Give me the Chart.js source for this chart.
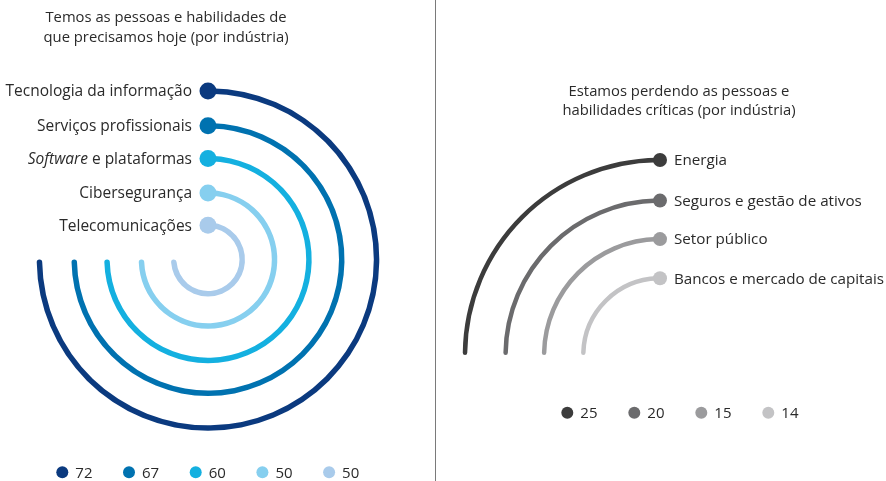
<!DOCTYPE html>
<html>
<head>
<meta charset="utf-8">
<script src="https://cdn.jsdelivr.net/npm/chart.js@4/dist/chart.umd.min.js"></script>
<style>
  html, body { margin: 0; padding: 0; background: #fff; }
  #wrap { position: relative; width: 886px; height: 481px; overflow: hidden; }
  #esq { position: absolute; left: 0; top: 0; }
  #dir { position: absolute; left: 437px; top: 0; }
  #divisor { position: absolute; left: 435px; top: 0; width: 1px; height: 481px; background: #7a7a7a; }
</style>
</head>
<body>
<div id="wrap">
  <canvas id="esq" width="416" height="481"></canvas>
  <div id="divisor"></div>
  <canvas id="dir" width="449" height="481"></canvas>
</div>
<script>
// industrias com pessoas e habilidades necessarias hoje
const industriasHoje = ['Tecnologia da informação', 'Serviços profissionais', 'Software e plataformas', 'Cibersegurança', 'Telecomunicações'];
const valoresHoje = [72, 67, 60, 50, 50];
const coresHoje = ['#0b3a7f', '#0072b0', '#14b0e0', '#86cfef', '#a9cbeb'];

// industrias perdendo pessoas e habilidades criticas
const industriasPerda = ['Energia', 'Seguros e gestão de ativos', 'Setor público', 'Bancos e mercado de capitais'];
const valoresPerda = [25, 20, 15, 14];
const coresPerda = ['#3c3c3c', '#6b6b6d', '#9b9b9d', '#c3c3c5'];

const tituloHoje = ['Temos as pessoas e habilidades de', 'que precisamos hoje (por indústria)'];
const tituloPerda = ['Estamos perdendo as pessoas e', 'habilidades críticas (por indústria)'];

const FONTE = '"Open Sans", "Noto Sans", sans-serif';
const COR_TEXTO = '#2a2a2a';

// monta os aneis (um dataset por industria) com aneis vazios entre eles
function montaAneis(valores, cores, espessura, vaos) {
  const ds = [];
  valores.forEach(function(v, i) {
    ds.push({
      data: [v],
      backgroundColor: cores[i],
      hoverBackgroundColor: cores[i],
      borderWidth: 0,
      borderRadius: espessura / 2,
      weight: espessura
    });
    if (i < vaos.length) {
      ds.push({
        data: [1],
        espaco: true,
        backgroundColor: 'rgba(0,0,0,0)',
        hoverBackgroundColor: 'rgba(0,0,0,0)',
        borderWidth: 0,
        weight: vaos[i]
      });
    }
  });
  return ds;
}

function cutoutPct(raio, espessura, n, vaos) {
  const soma = espessura * n + vaos.reduce((a, b) => a + b, 0);
  return ((raio - soma) / raio * 100) + '%';
}

// bolinhas na ponta de cada anel, nomes, titulo e legenda
const rotulosPlugin = {
  id: 'rotulos',
  afterDatasetsDraw(chart) {
    const o = chart.options.plugins.rotulos;
    const ctx = chart.ctx;
    const fNome = o.tamNome + 'px ' + FONTE;
    ctx.save();
    let k = 0;
    chart.data.datasets.forEach(function(ds, i) {
      if (ds.espaco) return;
      const arc = chart.getDatasetMeta(i).data[0];
      const ang = o.naPontaFinal ? arc.endAngle : arc.startAngle;
      const r = (arc.innerRadius + arc.outerRadius) / 2;
      const x = arc.x + Math.cos(ang) * r;
      const y = arc.y + Math.sin(ang) * r;
      ctx.fillStyle = ds.backgroundColor;
      ctx.beginPath();
      ctx.arc(x, y, o.raioPonto, 0, Math.PI * 2);
      ctx.fill();

      const nome = o.nomes[k];
      ctx.fillStyle = COR_TEXTO;
      ctx.textBaseline = 'middle';
      ctx.font = fNome;
      if (o.naPontaFinal) {
        ctx.textAlign = 'left';
        ctx.fillText(nome, x + 14, y + 1);
      } else {
        ctx.textAlign = 'right';
        const xd = x - 16;
        if (nome.indexOf('Software') === 0) {
          const resto = nome.slice('Software'.length);
          ctx.fillText(resto, xd, y + 1);
          const w = ctx.measureText(resto).width;
          ctx.font = 'italic ' + fNome;
          ctx.fillText('Software', xd - w, y + 1);
        } else {
          ctx.fillText(nome, xd, y + 1);
        }
      }
      k++;
    });

    // titulo
    ctx.fillStyle = COR_TEXTO;
    ctx.font = '14.8px ' + FONTE;
    ctx.textAlign = 'center';
    ctx.textBaseline = 'middle';
    o.titulo.forEach(function(t, j) {
      ctx.fillText(t, o.tituloX, o.tituloY + j * 19.5);
    });

    // legenda
    ctx.textAlign = 'left';
    ctx.font = '15px ' + FONTE;
    o.valores.forEach(function(v, j) {
      const lx = o.legX + j * o.legPasso;
      ctx.fillStyle = o.cores[j];
      ctx.beginPath();
      ctx.arc(lx, o.legY, 6, 0, Math.PI * 2);
      ctx.fill();
      ctx.fillStyle = COR_TEXTO;
      ctx.fillText(String(v), lx + 13, o.legY + 1);
    });
    ctx.restore();
  }
};

// grafico da esquerda: 3/4 de volta a partir do topo
const espHoje = 5.5;
const vaosHoje = [29.3, 27.3, 28.9, 26.8];
const raioHoje = 171.3;
new Chart(document.getElementById('esq'), {
  type: 'doughnut',
  data: { labels: ['valor'], datasets: montaAneis(valoresHoje, coresHoje, espHoje, vaosHoje) },
  options: {
    responsive: false,
    animation: false,
    rotation: 0,
    circumference: 270,
    cutout: cutoutPct(raioHoje, espHoje, valoresHoje.length, vaosHoje),
    layout: { padding: { top: 259.5 - raioHoje, bottom: 481 - 259.5 - raioHoje, left: 0, right: 0 } },
    events: [],
    plugins: {
      legend: { display: false },
      tooltip: { enabled: false },
      rotulos: {
        nomes: industriasHoje, valores: valoresHoje, cores: coresHoje,
        raioPonto: 8.5, naPontaFinal: false, tamNome: 15.5,
        titulo: tituloHoje, tituloX: 166, tituloY: 18,
        legX: 62.3, legY: 472.3, legPasso: 66.7
      }
    }
  },
  plugins: [rotulosPlugin]
});

// grafico da direita: quarto de volta terminando no topo
const espPerda = 4.5;
const vaosPerda = [36.1, 34, 34.7];
const raioPerda = 197.25;
const cxPerda = 223, cyPerda = 355;
new Chart(document.getElementById('dir'), {
  type: 'doughnut',
  data: { labels: ['valor'], datasets: montaAneis(valoresPerda, coresPerda, espPerda, vaosPerda) },
  options: {
    responsive: false,
    animation: false,
    rotation: -90,
    circumference: 90,
    cutout: cutoutPct(raioPerda, espPerda, valoresPerda.length, vaosPerda),
    layout: { padding: { top: cyPerda - raioPerda, bottom: 481 - cyPerda, left: cxPerda - raioPerda, right: 449 - cxPerda } },
    events: [],
    plugins: {
      legend: { display: false },
      tooltip: { enabled: false },
      rotulos: {
        nomes: industriasPerda, valores: valoresPerda, cores: coresPerda,
        raioPonto: 7, naPontaFinal: true, tamNome: 15.2,
        titulo: tituloPerda, tituloX: 242, tituloY: 91.5,
        legX: 130.3, legY: 412.7, legPasso: 67
      }
    }
  },
  plugins: [rotulosPlugin]
});
</script>
</body>
</html>
